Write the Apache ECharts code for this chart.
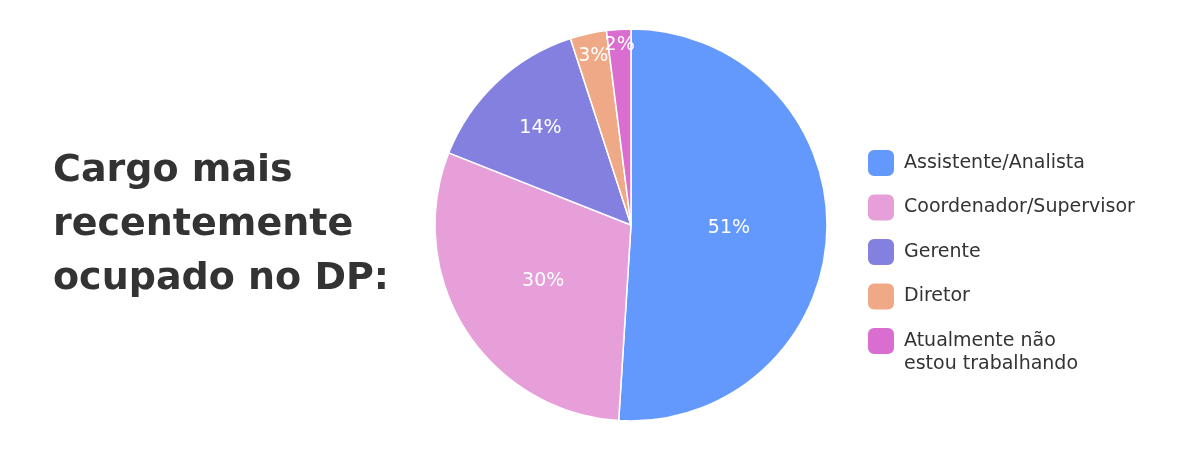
<!DOCTYPE html>
<html>
<head>
<meta charset="utf-8">
<script src="https://cdn.jsdelivr.net/npm/echarts@6/dist/echarts.min.js"></script>
<style>
html,body{margin:0;padding:0;background:#fff;}
#chart{width:1200px;height:450px;}
</style>
</head>
<body>
<div id="chart"></div>
<script>
const titleText = 'Cargo mais\nrecentemente\nocupado no DP:';
const categories = ['Assistente/Analista', 'Coordenador/Supervisor', 'Gerente', 'Diretor', 'Atualmente não estou trabalhando'];
const legendLabels = ['Assistente/Analista', 'Coordenador/Supervisor', 'Gerente', 'Diretor', ['Atualmente não', 'estou trabalhando']];
const values = [51, 30, 14, 3, 2];
const colors = ['#6399FD', '#E79FDA', '#8380E0', '#F0A986', '#D96ED0'];

const chart = echarts.init(document.getElementById('chart'));
const CX = 631, CY = 225, R = 196;
// radial placement factor of each label relative to default mid-radius position
const labelScale = [0.97, 1.03, 1.31, 1.71, 1.79];
const FONT = 'DejaVu Sans';

chart.setOption({
  backgroundColor: '#ffffff',
  animation: false,
  title: {
    text: titleText,
    left: 48,
    top: 'middle',
    textStyle: {
      fontFamily: FONT,
      fontWeight: 'bold',
      fontSize: 38,
      lineHeight: 54,
      color: '#333333'
    }
  },
  legend: {
    orient: 'vertical',
    left: 866,
    top: 148,
    padding: 0,
    itemWidth: 28,
    itemHeight: 28,
    itemGap: 14.5,
    icon: 'roundRect',
    selectedMode: false,
    data: categories,
    formatter: function (name) {
      const l = legendLabels[categories.indexOf(name)];
      if (Array.isArray(l)) return '{a|' + l[0] + '}\n{b|' + l[1] + '}';
      return l;
    },
    textStyle: {
      fontFamily: FONT,
      fontSize: 19,
      color: '#333333',
      padding: [0, 0, 0, 4],
      rich: {
        a: { fontFamily: FONT, fontSize: 19, color: '#333333', lineHeight: 28 },
        b: { fontFamily: FONT, fontSize: 19, color: '#333333', lineHeight: 0, verticalAlign: 'top' }
      }
    }
  },
  series: [{
    type: 'pie',
    center: [CX, CY],
    radius: [0, R],
    startAngle: 90,
    clockwise: true,
    avoidLabelOverlap: false,
    itemStyle: { borderColor: '#ffffff', borderWidth: 1.5 },
    label: {
      show: true,
      position: 'inside',
      formatter: '{c}%',
      color: '#ffffff',
      fontFamily: FONT,
      fontSize: 19
    },
    labelLine: { show: false },
    emphasis: { disabled: true },
    labelLayout: function (p) {
      const r = p.labelRect;
      const lx = r.x + r.width / 2, ly = r.y + r.height / 2;
      const k = labelScale[p.dataIndex];
      return { x: CX + (lx - CX) * k, y: CY + (ly - CY) * k };
    },
    data: categories.map((c, i) => ({ name: c, value: values[i], itemStyle: { color: colors[i] } }))
  }]
});
</script>
</body>
</html>
